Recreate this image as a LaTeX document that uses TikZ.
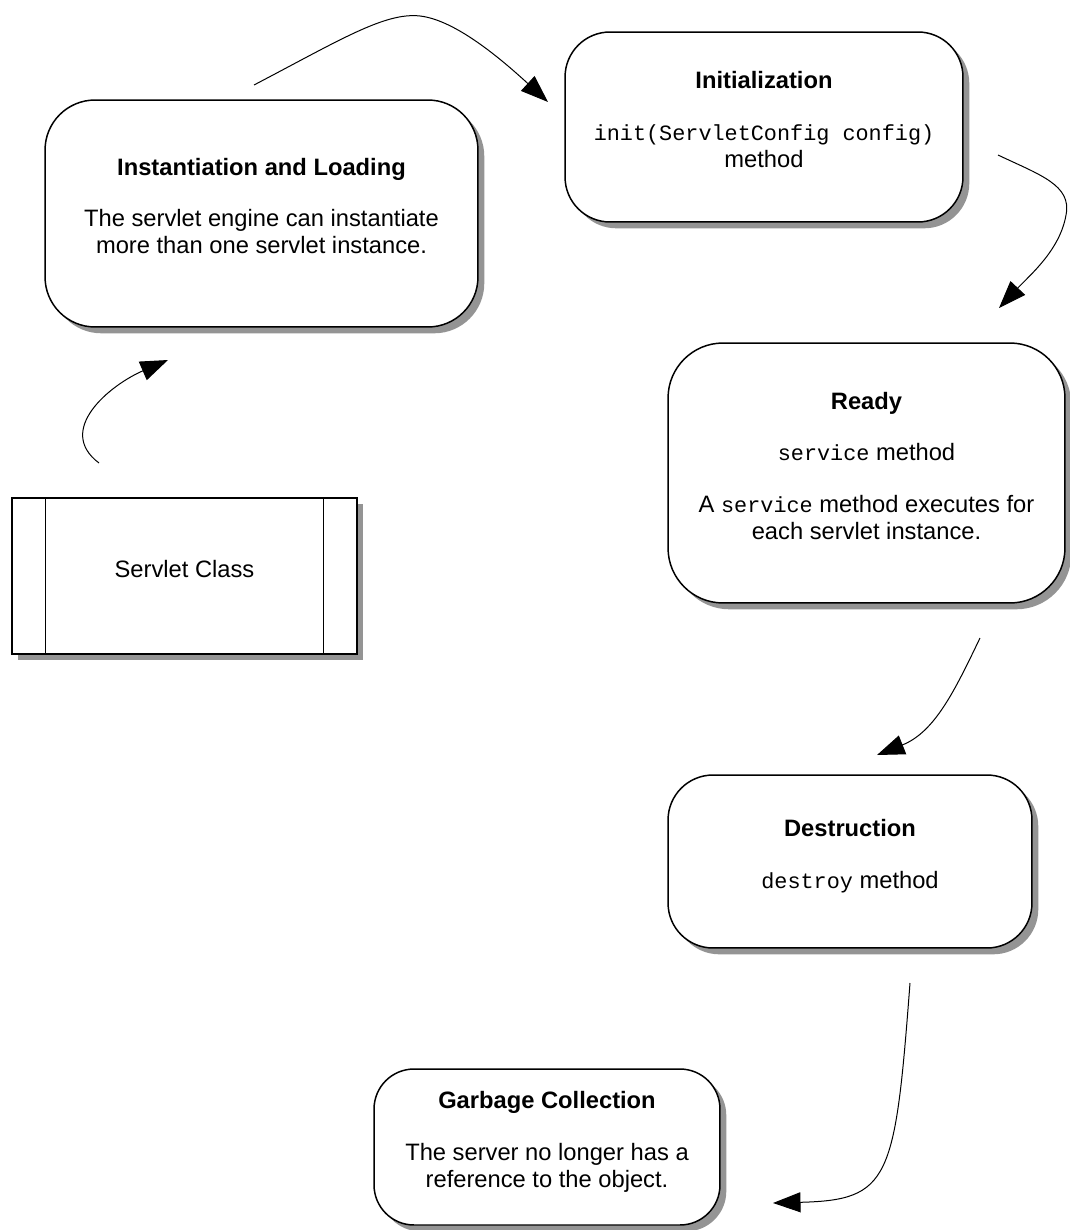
\documentclass[tikz,border=0pt]{standalone}
\usepackage{fontspec}
\setmainfont{Liberation Sans}
\setmonofont{Liberation Mono}[Scale=0.92]
\usetikzlibrary{arrows.meta,shadows}
\begin{document}
\begin{tikzpicture}[x=0.02cm, y=-0.02cm,
    phase/.style={draw, fill=white, line width=0.85pt, rounded corners=1cm, align=center,
        font=\fontsize{13.5}{15.3}\selectfont, text depth=8.5pt,
        drop shadow={shadow xshift=3.6pt, shadow yshift=-3.6pt, fill=black!42, opacity=1}},
    flow/.style={-{Triangle[length=0.55cm,width=0.4cm]}, color=black, line width=0.20mm}]
\useasboundingbox (0,0) rectangle (1069,1230);
\node[phase, minimum width=8.66cm, minimum height=4.54cm] (inst) at (261.5,213.5)
    {\textbf{Instantiation and Loading}\\[14pt]The servlet engine can instantiate\\more than one servlet instance.};
\node[phase, minimum width=7.96cm, minimum height=3.8cm, rounded corners=0.9cm] (init) at (764,127)
    {\textbf{Initialization}\\[14pt]\texttt{init(ServletConfig config)}\\method};
\node[phase, minimum width=7.94cm, minimum height=5.2cm, rounded corners=1.1cm] (ready) at (866.5,473)
    {\textbf{Ready}\\[14pt]\texttt{service} method\\[14pt]A \texttt{service} method executes for\\each servlet instance.};
\node[phase, minimum width=7.28cm, minimum height=3.46cm, rounded corners=0.9cm] (destr) at (850,861.5)
    {\textbf{Destruction}\\[14pt]\texttt{destroy} method};
\node[phase, minimum width=6.92cm, minimum height=3.12cm, rounded corners=0.8cm] (gc) at (547,1147)
    {\textbf{Garbage Collection}\\[14pt]The server no longer has a\\reference to the object.};
\node[phase, rounded corners=0pt, minimum width=6.9cm, minimum height=3.12cm] (cls) at (184.5,576)
    {Servlet Class};
\draw[line width=0.85pt] ([xshift=0.68cm]cls.north west) -- ([xshift=0.68cm]cls.south west)
    ([xshift=-0.68cm]cls.north east) -- ([xshift=-0.68cm]cls.south east);
% free ends of the arrows
\coordinate (cls-out) at (99,463);
\coordinate (inst-in) at (168,360);
\coordinate (inst-out) at (254,85);
\coordinate (init-in) at (548,102);
\coordinate (init-out) at (998,155);
\coordinate (ready-in) at (999,308);
\coordinate (ready-out) at (980,638);
\coordinate (destr-in) at (877,755);
\coordinate (destr-out) at (910,983);
\coordinate (gc-in) at (773,1203);
\draw[flow] (cls-out) .. controls (55,430) and (110,385) .. (inst-in);
\draw[flow] (inst-out) .. controls (340,40) and (385,12) .. (420,16) .. controls (455,20) and (500,58) .. (init-in);
\draw[flow] (init-out) .. controls (1040,175) and (1072,185) .. (1066,215) .. controls (1060,250) and (1030,275) .. (ready-in);
\draw[flow] (ready-out) .. controls (955,690) and (935,732) .. (destr-in);
\draw[flow] (destr-out) .. controls (895,1180) and (890,1200) .. (gc-in);
\end{tikzpicture}
\end{document}
